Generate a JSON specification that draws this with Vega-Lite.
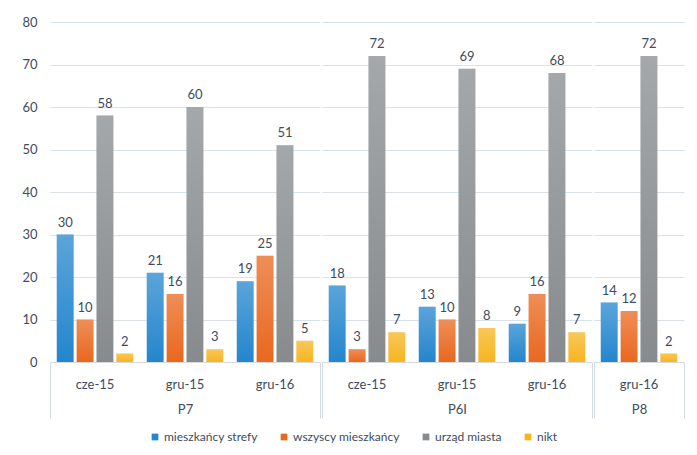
{
  "$schema": "https://vega.github.io/schema/vega-lite/v6.json",
  "padding": {"left": 21, "top": 16, "right": 10, "bottom": 5},
  "background": "white",
  "datasets": {
    "d": [
      {"loc": "P7", "period": "cze-15", "series": "mieszkańcy strefy", "value": 30},
      {"loc": "P7", "period": "cze-15", "series": "wszyscy mieszkańcy", "value": 10},
      {"loc": "P7", "period": "cze-15", "series": "urząd miasta", "value": 58},
      {"loc": "P7", "period": "cze-15", "series": "nikt", "value": 2},
      {"loc": "P7", "period": "gru-15", "series": "mieszkańcy strefy", "value": 21},
      {"loc": "P7", "period": "gru-15", "series": "wszyscy mieszkańcy", "value": 16},
      {"loc": "P7", "period": "gru-15", "series": "urząd miasta", "value": 60},
      {"loc": "P7", "period": "gru-15", "series": "nikt", "value": 3},
      {"loc": "P7", "period": "gru-16", "series": "mieszkańcy strefy", "value": 19},
      {"loc": "P7", "period": "gru-16", "series": "wszyscy mieszkańcy", "value": 25},
      {"loc": "P7", "period": "gru-16", "series": "urząd miasta", "value": 51},
      {"loc": "P7", "period": "gru-16", "series": "nikt", "value": 5},
      {"loc": "P6I", "period": "cze-15", "series": "mieszkańcy strefy", "value": 18},
      {"loc": "P6I", "period": "cze-15", "series": "wszyscy mieszkańcy", "value": 3},
      {"loc": "P6I", "period": "cze-15", "series": "urząd miasta", "value": 72},
      {"loc": "P6I", "period": "cze-15", "series": "nikt", "value": 7},
      {"loc": "P6I", "period": "gru-15", "series": "mieszkańcy strefy", "value": 13},
      {"loc": "P6I", "period": "gru-15", "series": "wszyscy mieszkańcy", "value": 10},
      {"loc": "P6I", "period": "gru-15", "series": "urząd miasta", "value": 69},
      {"loc": "P6I", "period": "gru-15", "series": "nikt", "value": 8},
      {"loc": "P6I", "period": "gru-16", "series": "mieszkańcy strefy", "value": 9},
      {"loc": "P6I", "period": "gru-16", "series": "wszyscy mieszkańcy", "value": 16},
      {"loc": "P6I", "period": "gru-16", "series": "urząd miasta", "value": 68},
      {"loc": "P6I", "period": "gru-16", "series": "nikt", "value": 7},
      {"loc": "P8", "period": "gru-16", "series": "mieszkańcy strefy", "value": 14},
      {"loc": "P8", "period": "gru-16", "series": "wszyscy mieszkańcy", "value": 12},
      {"loc": "P8", "period": "gru-16", "series": "urząd miasta", "value": 72},
      {"loc": "P8", "period": "gru-16", "series": "nikt", "value": 2}
    ]
  },
  "data": {"name": "d"},
  "spacing": 0,
  "resolve": {"scale": {"x": "independent", "y": "shared", "color": "shared"}, "axis": {"x": "independent", "y": "independent"}},
  "hconcat": [
    {
      "width": 270, "height": 340,
      "transform": [{"filter": "datum.loc === 'P7'"}],
      "layer": [
        {
          "encoding": {
            "x": {"field": "period", "type": "nominal", "sort": ["cze-15", "gru-15", "gru-16"], "scale": {"paddingInner": 0.15, "paddingOuter": 0.075}, "axis": {"title": null, "ticks": false, "domain": true, "domainColor": "#d9d9d9", "labelPadding": 16, "labelAngle": 0}},
            "xOffset": {"field": "series", "type": "nominal", "sort": ["mieszkańcy strefy", "wszyscy mieszkańcy", "urząd miasta", "nikt"], "scale": {"paddingInner": 0.15}},
            "y": {"field": "value", "type": "quantitative", "scale": {"domain": [0, 80]}, "axis": {"title": null, "ticks": false, "domain": false, "values": [0, 10, 20, 30, 40, 50, 60, 70, 80], "labelPadding": 13, "gridColor": "#d8e2eb"}}
          },
          "layer": [
            {"mark": {"type": "bar"}, "encoding": {"color": {"field": "series", "type": "nominal", "sort": ["mieszkańcy strefy", "wszyscy mieszkańcy", "urząd miasta", "nikt"], "scale": {"domain": ["mieszkańcy strefy", "wszyscy mieszkańcy", "urząd miasta", "nikt"], "range": ["#2486cd", "#e9681f", "#878b8e", "#f7b520"]}, "legend": {"title": null, "orient": "bottom", "direction": "horizontal", "symbolType": "square", "symbolSize": 45, "columnPadding": 20, "labelOffset": 3, "labelFontSize": 12, "labelColor": "#3e4c5e", "offset": 12, "symbolStrokeWidth": 0}}}},
            {"mark": {"type": "bar", "fill": {"gradient": "linear", "x1": 0, "y1": 0, "x2": 0, "y2": 1, "stops": [{"offset": 0, "color": "rgba(255,255,255,0.25)"}, {"offset": 1, "color": "rgba(255,255,255,0)"}]}}},
            {"mark": {"type": "text", "baseline": "bottom", "dy": -5, "fontSize": 13, "color": "#3e4c5e"}, "encoding": {"text": {"field": "value", "type": "quantitative"}}}
          ]
        },
        {
          "mark": {"type": "bar", "opacity": 0},
          "encoding": {"x": {"field": "loc", "type": "nominal", "scale": {"paddingInner": 0, "paddingOuter": 0}, "axis": {"orient": "bottom", "title": null, "tickBand": "extent", "tickSize": 56, "tickColor": "#d3dce5", "domain": false, "labelPadding": -15, "labelAngle": 0}}}
        }
      ],
      "resolve": {"scale": {"x": "independent"}, "axis": {"x": "independent"}}
    },
    {
      "width": 270, "height": 340,
      "transform": [{"filter": "datum.loc === 'P6I'"}],
      "layer": [
        {
          "encoding": {
            "x": {"field": "period", "type": "nominal", "sort": ["cze-15", "gru-15", "gru-16"], "scale": {"paddingInner": 0.15, "paddingOuter": 0.075}, "axis": {"title": null, "ticks": false, "domain": true, "domainColor": "#d9d9d9", "labelPadding": 16, "labelAngle": 0}},
            "xOffset": {"field": "series", "type": "nominal", "sort": ["mieszkańcy strefy", "wszyscy mieszkańcy", "urząd miasta", "nikt"], "scale": {"paddingInner": 0.15}},
            "y": {"field": "value", "type": "quantitative", "scale": {"domain": [0, 80]}, "axis": {"title": null, "ticks": false, "domain": false, "labels": false, "values": [0, 10, 20, 30, 40, 50, 60, 70, 80], "gridColor": "#d8e2eb"}}
          },
          "layer": [
            {"mark": {"type": "bar"}, "encoding": {"color": {"field": "series", "type": "nominal", "sort": ["mieszkańcy strefy", "wszyscy mieszkańcy", "urząd miasta", "nikt"], "scale": {"domain": ["mieszkańcy strefy", "wszyscy mieszkańcy", "urząd miasta", "nikt"], "range": ["#2486cd", "#e9681f", "#878b8e", "#f7b520"]}}}},
            {"mark": {"type": "bar", "fill": {"gradient": "linear", "x1": 0, "y1": 0, "x2": 0, "y2": 1, "stops": [{"offset": 0, "color": "rgba(255,255,255,0.25)"}, {"offset": 1, "color": "rgba(255,255,255,0)"}]}}},
            {"mark": {"type": "text", "baseline": "bottom", "dy": -5, "fontSize": 13, "color": "#3e4c5e"}, "encoding": {"text": {"field": "value", "type": "quantitative"}}}
          ]
        },
        {
          "mark": {"type": "bar", "opacity": 0},
          "encoding": {"x": {"field": "loc", "type": "nominal", "scale": {"paddingInner": 0, "paddingOuter": 0}, "axis": {"orient": "bottom", "title": null, "tickBand": "extent", "tickSize": 56, "tickColor": "#d3dce5", "domain": false, "labelPadding": -15, "labelAngle": 0}}}
        }
      ],
      "resolve": {"scale": {"x": "independent"}, "axis": {"x": "independent"}}
    },
    {
      "width": 90, "height": 340,
      "transform": [{"filter": "datum.loc === 'P8'"}],
      "layer": [
        {
          "encoding": {
            "x": {"field": "period", "type": "nominal", "sort": ["gru-16"], "scale": {"paddingInner": 0.15, "paddingOuter": 0.075}, "axis": {"title": null, "ticks": false, "domain": true, "domainColor": "#d9d9d9", "labelPadding": 16, "labelAngle": 0}},
            "xOffset": {"field": "series", "type": "nominal", "sort": ["mieszkańcy strefy", "wszyscy mieszkańcy", "urząd miasta", "nikt"], "scale": {"paddingInner": 0.15}},
            "y": {"field": "value", "type": "quantitative", "scale": {"domain": [0, 80]}, "axis": {"title": null, "ticks": false, "domain": false, "labels": false, "values": [0, 10, 20, 30, 40, 50, 60, 70, 80], "gridColor": "#d8e2eb"}}
          },
          "layer": [
            {"mark": {"type": "bar"}, "encoding": {"color": {"field": "series", "type": "nominal", "sort": ["mieszkańcy strefy", "wszyscy mieszkańcy", "urząd miasta", "nikt"], "scale": {"domain": ["mieszkańcy strefy", "wszyscy mieszkańcy", "urząd miasta", "nikt"], "range": ["#2486cd", "#e9681f", "#878b8e", "#f7b520"]}}}},
            {"mark": {"type": "bar", "fill": {"gradient": "linear", "x1": 0, "y1": 0, "x2": 0, "y2": 1, "stops": [{"offset": 0, "color": "rgba(255,255,255,0.25)"}, {"offset": 1, "color": "rgba(255,255,255,0)"}]}}},
            {"mark": {"type": "text", "baseline": "bottom", "dy": -5, "fontSize": 13, "color": "#3e4c5e"}, "encoding": {"text": {"field": "value", "type": "quantitative"}}}
          ]
        },
        {
          "mark": {"type": "bar", "opacity": 0},
          "encoding": {"x": {"field": "loc", "type": "nominal", "scale": {"paddingInner": 0, "paddingOuter": 0}, "axis": {"orient": "bottom", "title": null, "tickBand": "extent", "tickSize": 56, "tickColor": "#d3dce5", "domain": false, "labelPadding": -15, "labelAngle": 0}}}
        }
      ],
      "resolve": {"scale": {"x": "independent"}, "axis": {"x": "independent"}}
    }
  ],
  "config": {
    "font": "Lato",
    "view": {"stroke": null},
    "axis": {"labelFont": "Lato", "labelFontSize": 13, "labelColor": "#3e4c5e", "gridColor": "#d8e2eb"},
    "legend": {"labelFont": "Lato", "layout": {"bottom": {"anchor": "middle"}}},
    "text": {"font": "Lato"}
  }
}
